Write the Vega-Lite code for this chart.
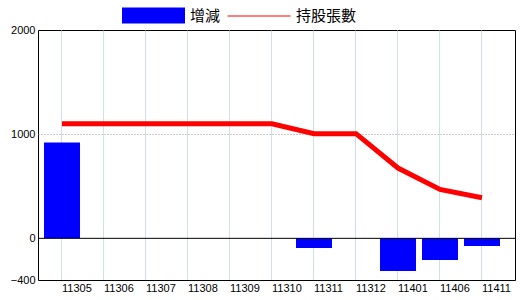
{
  "$schema": "https://vega.github.io/schema/vega-lite/v6.json",
  "width": 477,
  "height": 250,
  "autosize": {"type": "none"},
  "padding": {"left": 38, "top": 30, "right": 5, "bottom": 20},
  "background": "white",
  "config": {
    "view": {"stroke": "black", "strokeWidth": 1},
    "font": "Liberation Sans"
  },
  "data": {
    "values": [
      {"month": "11305", "change": 920, "holdings": 1100},
      {"month": "11306", "change": null, "holdings": 1100},
      {"month": "11307", "change": null, "holdings": 1100},
      {"month": "11308", "change": null, "holdings": 1100},
      {"month": "11309", "change": null, "holdings": 1100},
      {"month": "11310", "change": null, "holdings": 1100},
      {"month": "11311", "change": -93, "holdings": 1005},
      {"month": "11312", "change": null, "holdings": 1005},
      {"month": "11401", "change": -314, "holdings": 675},
      {"month": "11406", "change": -208, "holdings": 470},
      {"month": "11411", "change": -74, "holdings": 390}
    ]
  },
  "layer": [
    {
      "mark": {"type": "bar"},
      "encoding": {
        "x": {
          "field": "month", "type": "nominal", "sort": null,
          "scale": {
            "type": "band",
            "domain": ["11305", "11306", "11307", "11308", "11309", "11310", "11311", "11312", "11401", "11406", "11411"],
            "paddingInner": 0.142857, "paddingOuter": 0.25, "align": 0.2857
          },
          "axis": {
            "title": null, "domain": false, "ticks": false, "labelAngle": 0,
            "labelAlign": "left", "labelDx": 2, "labelPadding": 2,
            "labelFontSize": 11, "labelColor": "black", "labelFont": "Liberation Sans",
            "grid": true, "gridColor": "#9cc3d4", "gridDash": [1, 1], "bandPosition": 0.5
          }
        },
        "y": {
          "field": "change", "type": "quantitative",
          "scale": {"domain": [-400, 2000], "nice": false, "zero": false},
          "axis": {
            "title": null, "domain": false, "ticks": false, "values": [-400, 0, 1000, 2000],
            "format": "d",
            "labelPadding": 3, "labelFontSize": 11, "labelColor": "black", "labelFont": "Liberation Sans",
            "grid": true, "gridColor": "#999999", "gridDash": [1, 2],
            "gridOpacity": {"condition": {"test": "datum.value === 1000", "value": 1}, "value": 0}
          }
        },
        "fill": {
          "datum": "增減",
          "scale": {"range": ["#0000ff"]},
          "legend": {
            "orient": "none", "legendX": 84, "legendY": -46, "direction": "horizontal",
            "title": null, "padding": 0,
            "symbolType": "M-1,-0.254H1V0.254H-1Z", "symbolSize": 3969, "symbolStrokeWidth": 0,
            "labelFontSize": 15, "labelFont": "Noto Sans CJK TC", "labelOffset": 5, "labelColor": "black"
          }
        }
      }
    },
    {
      "data": {"values": [{"zero": 0}]},
      "mark": {"type": "rule", "color": "black", "strokeWidth": 1},
      "encoding": {"y": {"field": "zero", "type": "quantitative"}}
    },
    {
      "mark": {"type": "line", "strokeWidth": 5, "strokeCap": "butt"},
      "encoding": {
        "x": {"field": "month", "type": "nominal", "sort": null},
        "y": {"field": "holdings", "type": "quantitative"},
        "stroke": {
          "datum": "持股張數",
          "scale": {"range": ["#ff0000"]},
          "legend": {
            "orient": "none", "legendX": 189, "legendY": -46, "direction": "horizontal",
            "title": null, "padding": 0,
            "symbolType": "M-1,0H1", "symbolSize": 3969, "symbolStrokeWidth": 1,
            "labelFontSize": 15, "labelFont": "Noto Sans CJK TC", "labelOffset": 5, "labelColor": "black"
          }
        }
      }
    }
  ]
}
